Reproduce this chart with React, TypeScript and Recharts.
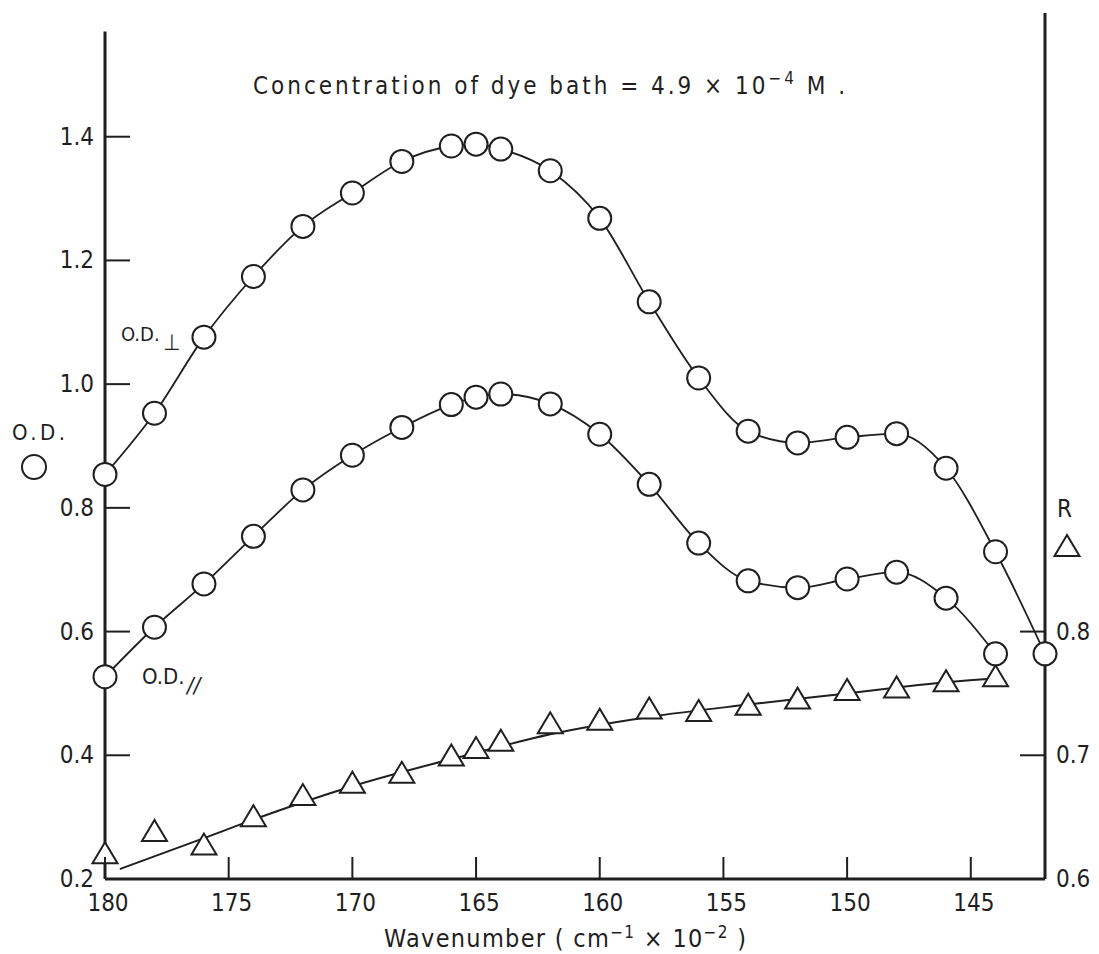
import { ComposedChart, Line, ReferenceLine, XAxis, YAxis } from 'recharts';

// wavenumber (cm-1 x 10-2) of the measured points
const wavenumbers = [180, 178, 176, 174, 172, 170, 168, 166, 165, 164, 162, 160, 158, 156, 154, 152, 150, 148, 146, 144, 142];
// O.D. perpendicular (top curve)
const odPerp = [0.854, 0.953, 1.076, 1.174, 1.255, 1.309, 1.36, 1.385, 1.388, 1.38, 1.345, 1.268, 1.133, 1.01, 0.924, 0.905, 0.914, 0.92, 0.864, 0.729, 0.564];
// O.D. parallel (middle curve)
const odPara = [0.527, 0.607, 0.677, 0.754, 0.829, 0.885, 0.93, 0.967, 0.979, 0.984, 0.968, 0.919, 0.838, 0.743, 0.682, 0.671, 0.685, 0.696, 0.654, 0.564, null];
// dichroic ratio R (triangles, right axis)
const ratio = [0.62, 0.638, 0.627, 0.65, 0.667, 0.677, 0.685, 0.699, 0.705, 0.711, 0.725, 0.728, 0.737, 0.735, 0.74, 0.745, 0.752, 0.754, 0.759, 0.763, null];
// smooth line drawn through R
const fitWavenumbers = [179.4, 176, 174, 170, 165, 162, 158, 154, 150, 146, 144];
const ratioFit = [0.608, 0.633, 0.648, 0.675, 0.702, 0.717, 0.731, 0.741, 0.75, 0.759, 0.762];

const xTicks = [180, 175, 170, 165, 160, 155, 150, 145];
const odTicks = [0.2, 0.4, 0.6, 0.8, 1.0, 1.2, 1.4];
const rTicks = [0.6, 0.7, 0.8];

const ink = '#1f1f1f';
const font = "'Liberation Sans Narrow', 'DejaVu Sans Condensed', 'DejaVu Sans', sans-serif";

const allX = Array.from(new Set([...wavenumbers, ...fitWavenumbers])).sort((a, b) => b - a);
const data = allX.map((w) => {
  const i = wavenumbers.indexOf(w);
  const j = fitWavenumbers.indexOf(w);
  return {
    w,
    perp: i >= 0 ? odPerp[i] : null,
    para: i >= 0 ? odPara[i] : null,
    r: i >= 0 ? ratio[i] : null,
    fit: j >= 0 ? ratioFit[j] : null,
  };
});

const XTick = ({ x, y, payload }: any) => (
  <g>
    <line x1={x} x2={x} y1={y} y2={y - 22} stroke={ink} strokeWidth={2} />
    <text x={x + 3} y={y + 32} textAnchor="middle" fontSize={24} fontFamily={font} fill={ink}>
      {payload.value}
    </text>
  </g>
);

const LeftTick = ({ x, y, payload }: any) => (
  <g>
    <line x1={x} x2={x + 25} y1={y} y2={y} stroke={ink} strokeWidth={2} />
    <text x={x - 11} y={y + 8} textAnchor="end" fontSize={24} fontFamily={font} fill={ink}>
      {payload.value.toFixed(1)}
    </text>
  </g>
);

const RightTick = ({ x, y, payload }: any) => (
  <g>
    <line x1={x - 25} x2={x} y1={y} y2={y} stroke={ink} strokeWidth={2} />
    <text x={x + 11} y={y + 8} textAnchor="start" fontSize={24} fontFamily={font} fill={ink}>
      {payload.value.toFixed(1)}
    </text>
  </g>
);

const circleDot = { r: 11.5, fill: '#fff', stroke: ink, strokeWidth: 2 };

const TriangleDot = (props: any) => {
  const { cx, cy, index } = props;
  if (cx == null || cy == null) return <g key={`t-${index}`} />;
  return (
    <polygon
      key={`t-${index}`}
      points={`${cx},${cy - 12} ${cx - 12.5},${cy + 9} ${cx + 12.5},${cy + 9}`}
      fill="#fff"
      stroke={ink}
      strokeWidth={2}
    />
  );
};

export default function App() {
  return (
    <div style={{ position: 'relative', width: 1099, height: 954, background: '#fff' }}>
      <style>{'body{margin:0}'}</style>
      <ComposedChart width={1099} height={954} data={data} margin={{ top: 13, right: 4, bottom: 15, left: 45 }}>
        <XAxis
          dataKey="w"
          type="number"
          domain={[142, 180]}
          reversed
          ticks={xTicks}
          height={60}
          tickSize={0}
          tickMargin={0}
          tickLine={false}
          tick={<XTick />}
          axisLine={{ stroke: ink, strokeWidth: 3 }}
        />
        <YAxis
          yAxisId="left"
          type="number"
          domain={[0.2, 1.6]}
          ticks={odTicks}
          width={60}
          tickSize={0}
          tickMargin={0}
          tickLine={false}
          axisLine={false}
          tick={<LeftTick />}
          allowDataOverflow
        />
        <YAxis
          yAxisId="right"
          orientation="right"
          type="number"
          domain={[0.6, 1.3]}
          ticks={rTicks}
          width={50}
          tickSize={0}
          tickMargin={0}
          tickLine={false}
          axisLine={{ stroke: ink, strokeWidth: 3 }}
          tick={<RightTick />}
          allowDataOverflow
        />
        <ReferenceLine
          yAxisId="left"
          segment={[{ x: 180, y: 0.2 }, { x: 180, y: 1.57 }]}
          stroke={ink}
          strokeWidth={3}
          ifOverflow="visible"
        />
        <Line
          yAxisId="right"
          dataKey="fit"
          type="monotone"
          stroke={ink}
          strokeWidth={2}
          dot={false}
          activeDot={false}
          connectNulls
          isAnimationActive={false}
        />
        <Line
          yAxisId="right"
          dataKey="r"
          stroke="none"
          dot={TriangleDot}
          activeDot={false}
          isAnimationActive={false}
        />
        <Line
          yAxisId="left"
          dataKey="para"
          type="monotone"
          stroke={ink}
          strokeWidth={1.8}
          dot={circleDot}
          activeDot={false}
          connectNulls
          isAnimationActive={false}
        />
        <Line
          yAxisId="left"
          dataKey="perp"
          type="monotone"
          stroke={ink}
          strokeWidth={1.8}
          dot={circleDot}
          activeDot={false}
          connectNulls
          isAnimationActive={false}
        />
      </ComposedChart>
      <svg
        width={1099}
        height={954}
        style={{ position: 'absolute', left: 0, top: 0, pointerEvents: 'none' }}
        fontFamily={font}
        fill={ink}
      >
        <text x={253} y={94} fontSize={24} textLength={592} lengthAdjust="spacing">
          Concentration of dye bath = 4.9 × 10
          <tspan dy={-10} fontSize={17}>−4</tspan>
          <tspan dy={10}> M .</tspan>
        </text>
        <text x={384} y={947} fontSize={25} textLength={362} lengthAdjust="spacing">
          Wavenumber ( cm
          <tspan dy={-9} fontSize={17}>−1</tspan>
          <tspan dy={9}> × 10</tspan>
          <tspan dy={-9} fontSize={17}>−2</tspan>
          <tspan dy={9}> )</tspan>
        </text>
        <text x={12} y={440} fontSize={22} textLength={53} lengthAdjust="spacing">O.D.</text>
        <circle cx={34} cy={467} r={12} fill="#fff" stroke={ink} strokeWidth={2} />
        <text x={121} y={341} fontSize={20}>O.D.</text>
        <text x={163} y={350} fontSize={22}>⊥</text>
        <text x={142} y={684} fontSize={22}>O.D.</text>
        <text x={187} y={693} fontSize={22} fontStyle="italic">//</text>
        <text x={1057} y={517} fontSize={24}>R</text>
        <polygon points="1067,535 1054.5,556 1079.5,556" fill="#fff" stroke={ink} strokeWidth={2} />
      </svg>
    </div>
  );
}
